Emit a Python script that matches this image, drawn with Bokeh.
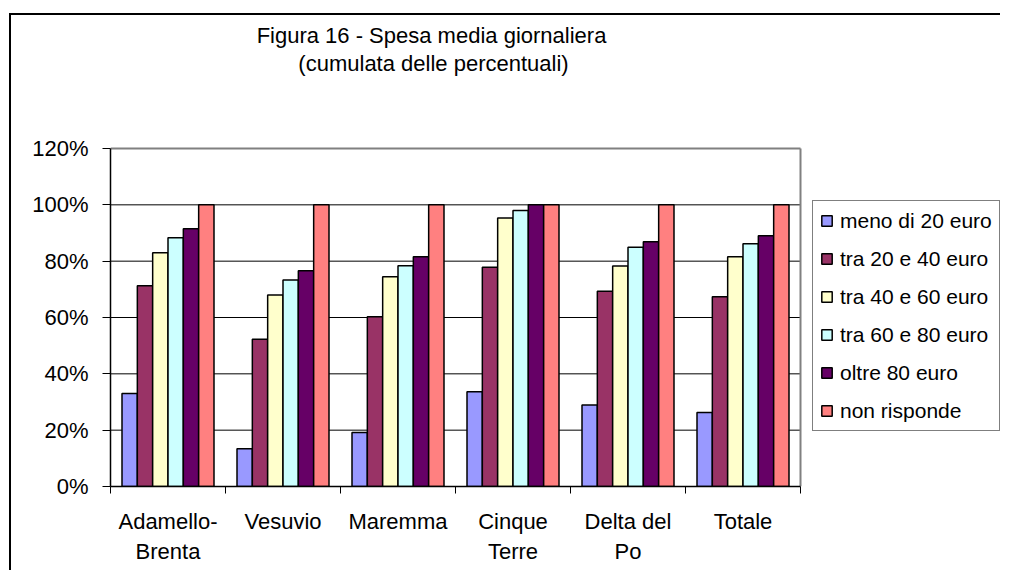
from bokeh.plotting import figure
from bokeh.models import (Range1d, FixedTicker, PrintfTickFormatter, Legend, LegendItem, Label)
from bokeh.embed import file_html
from bokeh.resources import INLINE
import numpy as np

categories = ["Adamello-\nBrenta", "Vesuvio", "Maremma", "Cinque\nTerre", "Delta del\nPo", "Totale"]
series_names = ["meno di 20 euro", "tra 20 e 40 euro", "tra 40 e 60 euro",
                "tra 60 e 80 euro", "oltre 80 euro", "non risponde"]
meno_20 = [33, 13.4, 19.2, 33.6, 28.9, 26.3]
tra_20_40 = [71.3, 52.3, 60.3, 77.8, 69.3, 67.4]
tra_40_60 = [83.0, 68.0, 74.5, 95.3, 78.3, 81.6]
tra_60_80 = [88.3, 73.3, 78.4, 98.0, 84.9, 86.2]
oltre_80 = [91.5, 76.6, 81.6, 100, 86.9, 89.0]
non_risponde = [100, 100, 100, 100, 100, 100]
y_ticks = [0, 20, 40, 60, 80, 100, 120]
title_lines = ["Figura 16 - Spesa media giornaliera", "(cumulata delle percentuali)"]

colors = ["#9999FF", "#993366", "#FFFFCC", "#CCFFFF", "#660066", "#FF8080"]
series = [meno_20, tra_20_40, tra_40_60, tra_60_80, oltre_80, non_risponde]

FONT = "Liberation Sans"
FS = "22px"

# ---- layout (pixels) ----
W, H = 1000, 570
PLOT_L, PLOT_R = 110, 800      # plot area (axes box) horizontally
PLOT_T, PLOT_B = 148, 486      # plot area vertically
ncat = len(categories)
ymax = y_ticks[-1]
# the Bokeh frame spans from PLOT_L to the right edge and from the top edge to PLOT_B,
# so that legend and titles are drawn inside it
x_end = ncat * (W - PLOT_L) / (PLOT_R - PLOT_L)
y_end = ymax * PLOT_B / (PLOT_B - PLOT_T)


def px_to_data(px, py):
    return ((px - PLOT_L) / (PLOT_R - PLOT_L) * ncat,
            (PLOT_B - py) / (PLOT_B - PLOT_T) * ymax)


border_css = ("linear-gradient(#000,#000) 9px 13px / 2px 3000px no-repeat, "
              "linear-gradient(#000,#000) 9px 13px / 3000px 2px no-repeat, #fff")

p = figure(width=W, height=H, output_backend="svg", toolbar_location=None,
           x_range=Range1d(0, x_end), y_range=Range1d(0, y_end),
           min_border_left=PLOT_L, min_border_right=0, min_border_top=0,
           min_border_bottom=H - PLOT_B, styles={"background": border_css})
p.background_fill_alpha = 0
p.border_fill_alpha = 0
p.outline_line_color = None
p.xgrid.grid_line_color = None
p.ygrid.grid_line_color = None

# gridlines (limited to the plot area) and grey plot-area border
grid_y = y_ticks[1:-1]
p.segment(x0=[0] * len(grid_y), x1=[ncat] * len(grid_y), y0=grid_y, y1=grid_y,
          line_color="black", line_width=1)
p.segment(x0=[0, ncat], x1=[ncat, ncat], y0=[ymax, 0], y1=[ymax, ymax],
          line_color="#808080", line_width=2)

n = len(series)
bw = 1.0 / (n + 1.5)
centers = np.arange(ncat) + 0.5
items = []
for j, (vals, col, name) in enumerate(zip(series, colors, series_names)):
    xs = centers + (j - (n - 1) / 2) * bw
    r = p.vbar(x=xs, top=vals, width=bw, bottom=0, fill_color=col,
               line_color="black", line_width=1.5)
    items.append(LegendItem(label=name, renderers=[r]))

# axes
xa = p.xaxis[0]
xa.bounds = (0, ncat)
xa.ticker = FixedTicker(ticks=list(centers), minor_ticks=list(range(ncat + 1)))
xa.major_label_overrides = {float(c): lab for c, lab in zip(centers, categories)}
xa.major_tick_out = 0
xa.major_tick_in = 0
xa.minor_tick_out = 7
xa.minor_tick_in = 0
xa.minor_tick_line_color = "black"
xa.axis_line_color = "black"
xa.axis_line_width = 1.5
xa.major_label_text_font = FONT
xa.major_label_text_font_size = FS
xa.major_label_text_color = "black"
xa.major_label_standoff = 15

ya = p.yaxis[0]
ya.bounds = (0, ymax)
ya.ticker = FixedTicker(ticks=y_ticks, minor_ticks=[])
ya.formatter = PrintfTickFormatter(format="%d%%")
ya.major_tick_out = 8
ya.major_tick_in = 0
ya.minor_tick_out = 0
ya.axis_line_color = "black"
ya.axis_line_width = 1.5
ya.major_label_text_font = FONT
ya.major_label_text_font_size = FS
ya.major_label_text_color = "black"
ya.major_label_standoff = 14

legend = Legend(items=items, location=(812 - PLOT_L, PLOT_B - 431), label_text_font=FONT,
                label_text_font_size="21px", label_text_color="black",
                label_height=25, glyph_height=13,
                glyph_width=13, spacing=13, padding=7, margin=0, label_standoff=7,
                border_line_color="black", border_line_width=1.2,
                background_fill_color="white", background_fill_alpha=1)
p.add_layout(legend, "center")

for txt, (tx, ty) in zip(title_lines, [(431, 35), (433, 63)]):
    dx, dy = px_to_data(tx, ty)
    p.add_layout(Label(x=dx, y=dy, text=txt, text_align="center", text_baseline="middle",
                       text_font=FONT, text_font_size=FS, text_color="black"))

open("out.html", "w").write(file_html(p, INLINE))
